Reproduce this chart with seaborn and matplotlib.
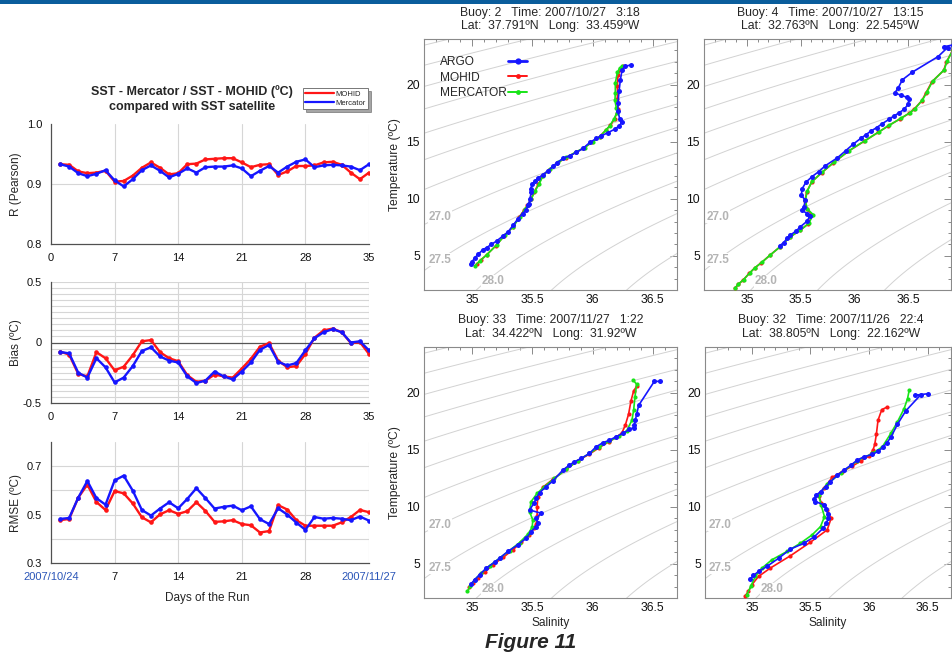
import numpy as np
import matplotlib
matplotlib.use("Agg")
import matplotlib.pyplot as plt
import seaborn as sns
from matplotlib.lines import Line2D
from matplotlib.patches import Rectangle
from matplotlib.ticker import MultipleLocator, FixedLocator

sns.set_style("white")
plt.rcParams['font.family'] = ['Liberation Sans', 'DejaVu Sans']

# ---------------- data: left-hand statistics ----------------
days = list(range(1, 36))
r_mohid = [0.933, 0.932, 0.921, 0.918, 0.919, 0.922, 0.904, 0.905, 0.914, 0.927,
           0.936, 0.927, 0.916, 0.918, 0.933, 0.934, 0.941, 0.942, 0.943, 0.943,
           0.936, 0.928, 0.932, 0.933, 0.915, 0.921, 0.930, 0.930, 0.931, 0.936,
           0.937, 0.932, 0.919, 0.908, 0.919]
r_mercator = [0.933, 0.929, 0.918, 0.913, 0.917, 0.923, 0.906, 0.896, 0.908, 0.923,
              0.931, 0.922, 0.911, 0.917, 0.926, 0.919, 0.928, 0.929, 0.929, 0.931,
              0.926, 0.913, 0.922, 0.930, 0.919, 0.929, 0.937, 0.941, 0.928, 0.931,
              0.932, 0.931, 0.929, 0.923, 0.933]
bias_mohid = [-0.075, -0.10, -0.26, -0.28, -0.08, -0.13, -0.23, -0.20, -0.105, 0.01,
              0.02, -0.08, -0.13, -0.155, -0.27, -0.325, -0.315, -0.265, -0.28, -0.29,
              -0.215, -0.135, -0.035, -0.005, -0.15, -0.205, -0.195, -0.095, 0.04, 0.10,
              0.115, 0.085, -0.005, 0.003, -0.095]
bias_mercator = [-0.078, -0.09, -0.25, -0.29, -0.13, -0.205, -0.33, -0.29, -0.195, -0.07,
                 -0.04, -0.115, -0.15, -0.165, -0.28, -0.335, -0.315, -0.24, -0.28, -0.305,
                 -0.24, -0.165, -0.06, -0.02, -0.16, -0.19, -0.17, -0.065, 0.035, 0.085,
                 0.11, 0.085, 0.0, 0.01, -0.065]
rmse_mohid = [0.477, 0.482, 0.570, 0.624, 0.552, 0.519, 0.597, 0.588, 0.546, 0.489,
              0.468, 0.501, 0.518, 0.503, 0.514, 0.551, 0.515, 0.470, 0.472, 0.477,
              0.461, 0.456, 0.426, 0.432, 0.539, 0.521, 0.477, 0.454, 0.454, 0.454,
              0.454, 0.468, 0.490, 0.519, 0.510]
rmse_mercator = [0.482, 0.486, 0.570, 0.639, 0.568, 0.541, 0.641, 0.661, 0.599, 0.519,
                 0.496, 0.525, 0.551, 0.526, 0.565, 0.609, 0.568, 0.525, 0.532, 0.537,
                 0.518, 0.534, 0.481, 0.461, 0.526, 0.500, 0.467, 0.437, 0.490, 0.483,
                 0.486, 0.483, 0.477, 0.492, 0.475]
day_ticks = [0, 7, 14, 21, 28, 35]
day_labels = ['0', '7', '14', '21', '28', '35']
date_labels = ['2007/10/24', '7', '14', '21', '28', '2007/11/27']

# ---------------- data: T-S profiles ----------------
# Buoy 2
b2_argo_s = [36.321, 36.266, 36.244, 36.23, 36.219, 36.21, 36.21, 36.224, 36.244, 36.219,
             36.183, 36.128, 36.072, 36.031, 35.976, 35.92, 35.865, 35.81, 35.755, 35.70,
             35.672, 35.63, 35.589, 35.547, 35.52, 35.50, 35.484, 35.492, 35.478, 35.473,
             35.464, 35.445, 35.418, 35.382, 35.34, 35.299, 35.257, 35.202, 35.16, 35.119,
             35.086, 35.05, 35.023, 35.0, 34.987]
b2_argo_t = [21.74, 21.59, 21.25, 20.43, 19.42, 18.41, 17.68, 17.01, 16.72, 16.38,
             16.09, 15.80, 15.51, 15.28, 14.93, 14.41, 14.06, 13.77, 13.54, 13.13,
             12.84, 12.46, 12.12, 11.80, 11.51, 11.30, 10.87, 10.58, 10.0, 9.57,
             9.42, 8.99, 8.70, 8.26, 7.68, 7.10, 6.75, 6.29, 6.0, 5.71,
             5.51, 5.13, 4.84, 4.49, 4.29]
b2_mohid_s = [36.252, 36.233, 36.21, 36.205, 36.205, 36.208, 36.183, 36.147, 36.108, 36.058,
              35.997, 35.928, 35.859, 35.777, 35.707, 35.638, 35.583, 35.55, 35.514, 35.486,
              35.459, 35.431, 35.39, 35.335, 35.266, 35.196, 35.119, 35.069, 35.041]
b2_mohid_t = [21.59, 21.30, 20.87, 19.86, 18.70, 17.83, 17.01, 16.43, 16.0, 15.45,
              14.99, 14.46, 14.06, 13.59, 13.13, 12.55, 11.97, 11.28, 10.58, 9.94,
              9.42, 9.01, 8.38, 7.51, 6.75, 5.88, 5.07, 4.61, 4.29]
b2_merc_s = [36.244, 36.224, 36.205, 36.188, 36.188, 36.185, 36.196, 36.202, 36.175, 36.141,
             36.108, 36.058, 36.003, 35.934, 35.865, 35.782, 35.713, 35.644, 35.589, 35.556,
             35.52, 35.492, 35.464, 35.437, 35.396, 35.34, 35.271, 35.202, 35.119, 35.064,
             35.023]
b2_merc_t = [21.59, 21.45, 21.07, 20.14, 19.28, 18.61, 17.97, 17.54, 16.96, 16.38,
             16.0, 15.42, 15.01, 14.49, 14.12, 13.62, 13.19, 12.61, 12.03, 11.30,
             10.64, 10.0, 9.48, 9.07, 8.41, 7.54, 6.81, 5.94, 5.07, 4.55,
             4.12]
# Buoy 4
b4_argo_s = [36.918, 36.837, 36.868, 36.78, 36.541, 36.448, 36.408, 36.377, 36.433, 36.488,
             36.51, 36.5, 36.463, 36.417, 36.37, 36.323, 36.26, 36.207, 36.151, 36.105,
             36.058, 35.989, 35.918, 35.84, 35.731, 35.669, 35.606, 35.55, 35.513, 35.507,
             35.544, 35.529, 35.513, 35.56, 35.585, 35.56, 35.497, 35.46, 35.404, 35.373,
             35.341, 35.304]
b4_argo_t = [23.48, 23.33, 23.25, 22.46, 21.10, 20.43, 19.71, 19.28, 19.07, 18.90,
             18.70, 18.26, 17.83, 17.54, 17.25, 16.96, 16.58, 16.23, 15.91, 15.59,
             15.28, 14.78, 14.20, 13.57, 12.90, 12.38, 11.94, 11.45, 10.87, 10.29,
             9.86, 9.28, 8.99, 8.70, 8.49, 8.03, 7.54, 7.19, 6.81, 6.52,
             6.14, 5.88]
b4_mohid_s = [36.915, 36.858, 36.832, 36.722, 36.668, 36.628, 36.557, 36.512, 36.426, 36.318,
              36.224, 36.09, 35.944, 35.805, 35.696, 35.603, 35.556, 35.541, 35.556, 35.61,
              35.571, 35.493, 35.40, 35.306, 35.213, 35.135, 35.073, 35.02, 34.964, 34.918,
              34.887]
b4_mohid_t = [23.0, 22.0, 21.25, 20.25, 19.3, 18.6, 17.85, 17.5, 17.0, 16.4,
              15.83, 15.03, 14.16, 13.15, 12.28, 11.47, 10.6, 9.82, 9.1, 8.58,
              7.8, 7.22, 6.64, 5.77, 5.04, 4.4, 3.94, 3.45, 2.87, 2.49,
              2.14]
b4_merc_s = [36.918, 36.862, 36.837, 36.728, 36.675, 36.634, 36.563, 36.519, 36.432, 36.323,
             36.229, 36.095, 35.949, 35.809, 35.70, 35.606, 35.56, 35.544, 35.56, 35.616,
             35.575, 35.497, 35.404, 35.31, 35.217, 35.139, 35.077, 35.024, 34.968, 34.921,
             34.89]
b4_merc_t = [23.04, 22.03, 21.30, 20.29, 19.33, 18.64, 17.88, 17.54, 17.04, 16.43,
             15.86, 15.07, 14.20, 13.19, 12.32, 11.51, 10.64, 9.86, 9.13, 8.61,
             7.83, 7.25, 6.67, 5.80, 5.07, 4.43, 3.97, 3.48, 2.90, 2.52,
             2.17]
# Buoy 33
b33_argo_s = [36.559, 36.512, 36.382, 36.365, 36.354, 36.346, 36.34, 36.304, 36.249, 36.194,
              36.139, 36.083, 36.028, 35.973, 35.904, 35.849, 35.807, 35.752, 35.669, 35.614,
              35.559, 35.531, 35.512, 35.476, 35.572, 35.531, 35.545, 35.531, 35.49, 35.448,
              35.379, 35.296, 35.227, 35.186, 35.117, 35.061, 35.02, 34.992]
b33_argo_t = [20.99, 20.99, 18.89, 18.11, 17.58, 17.20, 16.94, 16.77, 16.42, 16.13,
              15.83, 15.60, 15.25, 14.67, 14.23, 13.94, 13.65, 13.21, 12.25, 11.76,
              11.23, 10.74, 10.30, 9.72, 9.43, 8.99, 8.61, 8.26, 7.82, 7.24,
              6.66, 6.08, 5.49, 5.14, 4.62, 4.04, 3.60, 3.25]
b33_mohid_s = [36.365, 36.34, 36.318, 36.298, 36.271, 36.243, 36.194, 36.134, 36.056, 35.973,
               35.876, 35.78, 35.669, 35.586, 35.545, 35.539, 35.539, 35.531, 35.512, 35.47,
               35.407, 35.338, 35.255, 35.172, 35.103, 35.048, 35.006, 34.973]
b33_mohid_t = [20.55, 20.15, 19.27, 18.11, 17.15, 16.48, 16.07, 15.69, 15.19, 14.61,
               14.03, 13.27, 12.40, 11.70, 10.88, 10.01, 9.19, 8.49, 8.12, 7.53,
               6.89, 6.22, 5.55, 4.91, 4.27, 3.75, 3.31, 2.93]
b33_merc_s = [36.338, 36.365, 36.351, 36.34, 36.326, 36.282, 36.221, 36.139, 36.056, 35.973,
              35.876, 35.78, 35.683, 35.60, 35.539, 35.489, 35.476, 35.503, 35.498, 35.462,
              35.393, 35.31, 35.227, 35.144, 35.075, 35.02, 34.984, 34.959]
b33_merc_t = [21.08, 20.73, 19.62, 18.46, 17.58, 16.65, 16.18, 15.75, 15.25, 14.67,
              14.03, 13.27, 12.48, 11.76, 11.17, 10.45, 9.57, 8.84, 8.20, 7.59,
              6.86, 6.16, 5.49, 4.82, 4.18, 3.60, 3.02, 2.58]
# Buoy 32
b32_argo_s = [36.506, 36.394, 36.443, 36.314, 36.243, 36.186, 36.151, 36.123, 36.08, 36.029,
              35.957, 35.90, 35.843, 35.786, 35.729, 35.671, 35.629, 35.586, 35.551, 35.529,
              35.543, 35.62, 35.634, 35.649, 35.651, 35.637, 35.609, 35.529, 35.443, 35.329,
              35.229, 35.129, 35.057, 35.014, 34.986]
b32_argo_t = [19.91, 19.77, 19.83, 18.40, 17.23, 16.07, 15.60, 15.25, 14.87, 14.58,
              14.38, 14.09, 13.62, 13.21, 12.75, 12.19, 11.76, 11.32, 11.03, 10.65,
              10.45, 10.15, 9.78, 9.37, 8.99, 8.55, 8.12, 7.33, 6.80, 6.28,
              5.49, 4.77, 4.33, 3.98, 3.66]
b32_mohid_s = [36.157, 36.109, 36.077, 36.063, 36.049, 36.034, 36.0, 35.929, 35.857, 35.771,
               35.686, 35.614, 35.571, 35.594, 35.62, 35.643, 35.677, 35.643, 35.50, 35.329,
               35.157, 35.057, 35.0, 34.971, 34.943]
b32_mohid_t = [18.75, 18.51, 17.58, 16.36, 15.46, 14.96, 14.44, 14.0, 13.56, 13.07,
               12.57, 11.61, 10.97, 10.30, 10.15, 9.72, 8.99, 7.97, 6.89, 5.70,
               4.62, 3.89, 3.16, 2.58, 2.20]
b32_merc_s = [36.343, 36.329, 36.30, 36.243, 36.186, 36.114, 36.029, 35.90, 35.757, 35.643,
              35.571, 35.591, 35.62, 35.586, 35.514, 35.414, 35.30, 35.171, 35.086, 35.029,
              34.991, 34.957]
b32_merc_t = [20.20, 19.48, 18.60, 17.44, 16.42, 15.25, 14.67, 14.03, 12.92, 11.99,
              11.03, 10.15, 9.13, 8.26, 7.53, 6.80, 6.08, 5.35, 4.62, 3.89,
              3.02, 2.29]

sigma_levels = [23.0, 23.5, 24.0, 24.5, 25.0, 25.5, 26.0, 26.5, 27.0, 27.5, 28.0, 28.5, 29.0]
sigma_labelled = [27.0, 27.5, 28.0]
ts_series = ['ARGO', 'MOHID', 'MERCATOR']

# ---------------- layout ----------------
W, H = 952, 657
fig = plt.figure(figsize=(W / 100, H / 100), dpi=100)


def rect(x0, y0, x1, y1):
    return [x0 / W, 1 - y1 / H, (x1 - x0) / W, (y1 - y0) / H]


RED = '#ff1616'
BLUE = '#1616ff'
GREEN = '#18e418'
GRID = '#d6d6d6'
AXC = '#505050'

fig.add_artist(Rectangle((0, 1 - 4 / H), 1, 4 / H, transform=fig.transFigure,
                         color='#0a5d9c', lw=0))


def left_panel(ax, y1, y2, ylim, yticks, yticklabels, yminor, gridy, xticklabels):
    for g in day_ticks[1:]:
        ax.axvline(g, color=GRID, lw=0.8, zorder=0)
    for g in gridy:
        ax.axhline(g, color=GRID, lw=0.8, zorder=0)
    sns.lineplot(x=days, y=y1, ax=ax, color=RED, marker='o', ms=3.3, mew=0, lw=1.7, zorder=3)
    sns.lineplot(x=days, y=y2, ax=ax, color=BLUE, marker='o', ms=3.3, mew=0, lw=1.7, zorder=4)
    ax.set_xlim(0, 35)
    ax.set_ylim(*ylim)
    ax.set_xticks(day_ticks)
    ax.set_xticklabels(xticklabels)
    ax.xaxis.set_minor_locator(MultipleLocator(1))
    ax.set_yticks(yticks)
    ax.set_yticklabels(yticklabels)
    if yminor:
        ax.yaxis.set_minor_locator(FixedLocator(yminor))
    for sp in ['top', 'right']:
        ax.spines[sp].set_visible(False)
    for sp in ['left', 'bottom']:
        ax.spines[sp].set_color(AXC)
        ax.spines[sp].set_linewidth(0.9)
    ax.tick_params(axis='both', which='both', direction='out', length=4.5, width=0.8,
                   color=AXC, labelsize=8, pad=2, labelcolor='#111111')
    ax.set_xlabel('')
    ax.set_ylabel('')
    ax.set_facecolor('white')
    return ax


axR = fig.add_axes(rect(51, 124, 369, 244))
left_panel(axR, r_mohid, r_mercator, (0.8, 1.0), [0.8, 0.9, 1.0], ['0.8', '0.9', '1.0'],
           None, [0.9], day_labels)
axB = fig.add_axes(rect(51, 282, 369, 403))
left_panel(axB, bias_mohid, bias_mercator, (-0.5, 0.5), [-0.5, 0, 0.5], ['-0.5', '0', '0.5'],
           None, [v / 100 for v in range(-45, 55, 5) if v != 0], day_labels)
axB.axhline(0, color='#555555', lw=0.9, zorder=1)
axE = fig.add_axes(rect(51, 442, 369, 563))
left_panel(axE, rmse_mohid, rmse_mercator, (0.3, 0.8), [0.3, 0.5, 0.7], ['0.3', '0.5', '0.7'],
           [0.4, 0.6], [0.4, 0.5, 0.6, 0.7], date_labels)
xl = axE.get_xticklabels()
xl[0].set_color('#2a55b8')
xl[-1].set_color('#2a55b8')

for ytxt, yc in [('R (Pearson)', 184), ('Bias (ºC)', 343), ('RMSE (ºC)', 503)]:
    fig.text(16 / W, 1 - yc / H, ytxt, rotation=90, ha='center', va='center', fontsize=8.5)
fig.text(207 / W, 1 - 598 / H, 'Days of the Run', ha='center', va='center', fontsize=8.5)
fig.text(192 / W, 1 - 92 / H, 'SST - Mercator / SST - MOHID (ºC)', ha='center', va='center',
         fontsize=9, fontweight='bold')
fig.text(192 / W, 1 - 107 / H, 'compared with SST satellite', ha='center', va='center',
         fontsize=9, fontweight='bold')
leg = fig.legend([Line2D([], [], color=RED, lw=1.6), Line2D([], [], color=BLUE, lw=1.6)],
                 ['MOHID', 'Mercator'], loc='upper left',
                 bbox_to_anchor=(303 / W, 1 - 88 / H), fontsize=5.5, frameon=True,
                 fancybox=False, edgecolor='#777777', shadow=True, handlelength=3.7,
                 borderpad=0.3, labelspacing=0.2, handletextpad=0.3, borderaxespad=0)
leg.get_frame().set_linewidth(0.7)


# ---------------- T-S panels ----------------
def sigma_t(S, T):
    rw = (999.842594 + 6.793952e-2 * T - 9.095290e-3 * T ** 2 + 1.001685e-4 * T ** 3
          - 1.120083e-6 * T ** 4 + 6.536332e-9 * T ** 5)
    A = 8.24493e-1 - 4.0899e-3 * T + 7.6438e-5 * T ** 2 - 8.2467e-7 * T ** 3 + 5.3875e-9 * T ** 4
    B = -5.72466e-3 + 1.0227e-4 * T - 1.6546e-6 * T ** 2
    return rw + A * S + B * S ** 1.5 + 4.8314e-4 * S ** 2 - 1000.0


Sg, Tg = np.meshgrid(np.linspace(34.4, 37.2, 300), np.linspace(0.0, 26.0, 300))
SIG = sigma_t(Sg, Tg)
T_line = np.linspace(0.0, 26.0, 2001)
S_line = np.linspace(34.4, 37.2, 2001)


def ts_panel(ax, xlim, argo, mohid, merc, ylabel, xlabel):
    ax.contour(Sg, Tg, SIG, levels=sigma_levels, colors='#d2d2d2', linewidths=0.7, zorder=1)
    for lev in sigma_labelled[:2]:
        col = sigma_t(34.73, T_line)
        tl = np.interp(lev, col[::-1], T_line[::-1])
        ax.text(34.73, tl, f'{lev:.1f}', ha='center', va='center', fontsize=8.5,
                fontweight='bold', color='#b4b4b4', zorder=2,
                bbox=dict(facecolor='white', edgecolor='none', pad=0.3))
    row = sigma_t(S_line, 2.75)
    sl = np.interp(sigma_labelled[2], row, S_line)
    ax.text(sl + 0.06, 2.75, f'{sigma_labelled[2]:.1f}', ha='center', va='center', fontsize=8.5,
            fontweight='bold', color='#b4b4b4', zorder=2,
            bbox=dict(facecolor='white', edgecolor='none', pad=0.3))
    sns.lineplot(x=mohid[0], y=mohid[1], ax=ax, sort=False, estimator=None, color=RED,
                 marker='o', ms=3.0, mew=0, lw=1.2, zorder=3)
    sns.lineplot(x=merc[0], y=merc[1], ax=ax, sort=False, estimator=None, color=GREEN,
                 marker='o', ms=3.0, mew=0, lw=1.2, zorder=4)
    sns.lineplot(x=argo[0], y=argo[1], ax=ax, sort=False, estimator=None, color=BLUE,
                 marker='o', ms=3.6, mew=0, lw=1.2, zorder=5)
    ax.set_xlim(*xlim)
    ax.set_ylim(2, 24)
    ax.set_xticks([35, 35.5, 36, 36.5])
    ax.set_xticklabels(['35', '35.5', '36', '36.5'])
    ax.set_yticks([5, 10, 15, 20])
    ax.xaxis.set_minor_locator(MultipleLocator(0.1))
    ax.yaxis.set_minor_locator(MultipleLocator(1))
    for sp in ax.spines.values():
        sp.set_color('#8a8a8a')
        sp.set_linewidth(0.8)
        sp.set_visible(True)
    ax.tick_params(axis='both', which='both', direction='in', top=True, right=True,
                   color='#8a8a8a', width=0.7, labelsize=8.8, labelcolor='#111111')
    ax.tick_params(which='major', length=5, pad=3)
    ax.tick_params(which='minor', length=2.5)
    ax.set_xlabel(xlabel, fontsize=8.6, labelpad=2)
    ax.set_ylabel(ylabel, fontsize=8.7, labelpad=4)
    ax.set_facecolor('white')


ax1 = fig.add_axes(rect(424, 39, 677, 290))
ts_panel(ax1, (34.6, 36.7), (b2_argo_s, b2_argo_t), (b2_mohid_s, b2_mohid_t),
         (b2_merc_s, b2_merc_t), 'Temperature (ºC)', '')
ax2 = fig.add_axes(rect(704, 39, 951, 290))
ts_panel(ax2, (34.6, 36.9), (b4_argo_s, b4_argo_t), (b4_mohid_s, b4_mohid_t),
         (b4_merc_s, b4_merc_t), '', '')
ax3 = fig.add_axes(rect(424, 347, 677, 598))
ts_panel(ax3, (34.6, 36.7), (b33_argo_s, b33_argo_t), (b33_mohid_s, b33_mohid_t),
         (b33_merc_s, b33_merc_t), 'Temperature (ºC)', 'Salinity')
ax4 = fig.add_axes(rect(705, 347, 951, 598))
ts_panel(ax4, (34.6, 36.7), (b32_argo_s, b32_argo_t), (b32_mohid_s, b32_mohid_t),
         (b32_merc_s, b32_merc_t), '', 'Salinity')

# legend: labels left-aligned, keys to the right (two aligned legends)
leg_kw = dict(loc='upper left', bbox_transform=fig.transFigure, frameon=False, fontsize=8.6,
              labelspacing=0.3, borderaxespad=0, borderpad=0)
key_handles = [Line2D([], [], color=BLUE, marker='o', ms=4.5, mew=0, lw=2.0),
               Line2D([], [], color=RED, marker='o', ms=3.5, mew=0, lw=1.4),
               Line2D([], [], color=GREEN, marker='o', ms=3.5, mew=0, lw=1.4)]
leg_text = ax1.legend([Line2D([], [], lw=0)] * 3, ts_series,
                      bbox_to_anchor=(440 / W, 1 - 56 / H), handlelength=0,
                      handletextpad=0, **leg_kw)
ax1.add_artist(leg_text)
leg_keys = ax1.legend(key_handles, ts_series, bbox_to_anchor=(508 / W, 1 - 56 / H),
                      handlelength=1.6, handletextpad=0, **leg_kw)
for t in leg_keys.get_texts():
    t.set_color('none')

titles = [
    (550, 13, 'Buoy: 2   Time: 2007/10/27   3:18'),
    (550, 26, 'Lat:  37.791ºN   Long:  33.459ºW'),
    (830, 13, 'Buoy: 4   Time: 2007/10/27   13:15'),
    (830, 26, 'Lat:  32.763ºN   Long:  22.545ºW'),
    (551, 320, 'Buoy: 33   Time: 2007/11/27   1:22'),
    (551, 334, 'Lat:  34.422ºN   Long:  31.92ºW'),
    (831, 320, 'Buoy: 32   Time: 2007/11/26   22:4'),
    (831, 334, 'Lat:  38.805ºN   Long:  22.162ºW'),
]
for xc, yc, txt in titles:
    fig.text(xc / W, 1 - yc / H, txt, ha='center', va='center', fontsize=8.8)

fig.text(531 / W, 1 - 643 / H, 'Figure 11', ha='center', va='center', fontsize=15,
         fontweight='bold', fontstyle='italic')

fig.savefig('out.png', dpi=100)
